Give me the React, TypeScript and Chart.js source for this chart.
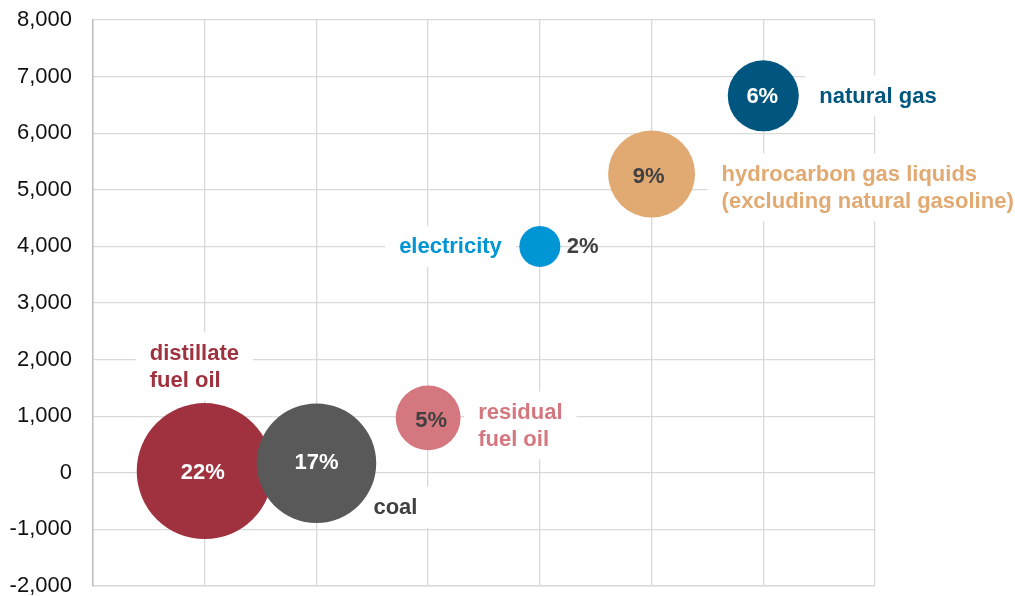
import { useEffect, useRef } from "react";
import { Chart, registerables } from "chart.js";

Chart.register(...registerables);

const categories = [
  "distillate fuel oil",
  "coal",
  "residual fuel oil",
  "electricity",
  "hydrocarbon gas liquids (excluding natural gasoline)",
  "natural gas",
];
const xPositions = [1, 2, 3, 4, 5, 6];
const yValues = [30, 170, 970, 4000, 5280, 6660];
const shares = [22, 17, 5, 2, 9, 6];
const labelLines = [
  ["distillate", "fuel oil"],
  ["coal"],
  ["residual", "fuel oil"],
  ["electricity"],
  ["hydrocarbon gas liquids", "(excluding natural gasoline)"],
  ["natural gas"],
];
const yMin = -2000;
const yMax = 8000;
const yStep = 1000;

const bubbleColors = ["#a0323f", "#595959", "#d5777f", "#0096d6", "#e2aa73", "#00567e"];
const shareTextColors = ["#ffffff", "#ffffff", "#404040", "#404040", "#404040", "#ffffff"];
const labelColors = ["#a0323f", "#404040", "#d5777f", "#0096d6", "#e2aa73", "#00567e"];
// label placement relative to bubble centre: [dx, dy of first line, align]
const labelPlacement: [number, number, CanvasTextAlign][] = [
  [-55, -117, "left"],
  [57, 45, "left"],
  [50, -5, "left"],
  [-38, 1, "right"],
  [70, 1, "left"],
  [56, 1, "left"],
];
// share label placement relative to bubble centre: [dx, dy, align]
const sharePlacement: [number, number, CanvasTextAlign][] = [
  [-2, 2, "center"],
  [0, 0, "center"],
  [3, 3, "center"],
  [27, 1, "left"],
  [-3, 3, "center"],
  [-1, 1, "center"],
];

const FONT = '"Liberation Sans", Arial, sans-serif';
const LINE_H = 27;

const labelPlugin = {
  id: "bubbleLabels",
  beforeDatasetsDraw(chart: any) {
    const ctx = chart.ctx;
    const meta = chart.getDatasetMeta(0);
    ctx.save();
    ctx.font = `bold 22px ${FONT}`;
    ctx.textBaseline = "middle";
    meta.data.forEach((el: any, i: number) => {
      const [dx, dy, align] = labelPlacement[i];
      const lines = labelLines[i];
      const x = el.x + dx;
      const y0 = el.y + dy;
      const w = Math.max(...lines.map((l) => ctx.measureText(l).width));
      const left = align === "right" ? x - w : x;
      const top = y0 - LINE_H / 2;
      const h = LINE_H * lines.length;
      ctx.fillStyle = "#ffffff";
      ctx.fillRect(left - 14, top - 8, w + 28, h + 14);
      ctx.fillStyle = labelColors[i];
      ctx.textAlign = align;
      lines.forEach((l, k) => ctx.fillText(l, x, y0 + k * LINE_H));
    });
    ctx.restore();
  },
  afterDatasetsDraw(chart: any) {
    const ctx = chart.ctx;
    const meta = chart.getDatasetMeta(0);
    ctx.save();
    ctx.font = `bold 22px ${FONT}`;
    ctx.textBaseline = "middle";
    meta.data.forEach((el: any, i: number) => {
      const [dx, dy, align] = sharePlacement[i];
      ctx.fillStyle = shareTextColors[i];
      ctx.textAlign = align;
      ctx.fillText(`${shares[i]}%`, el.x + dx, el.y + dy);
    });
    ctx.restore();
  },
};

export default function App() {
  const ref = useRef<HTMLCanvasElement | null>(null);
  useEffect(() => {
    if (!ref.current) return;
    const chart = new Chart(ref.current, {
      type: "bubble",
      data: {
        labels: categories,
        datasets: [
          {
            label: "energy",
            data: xPositions.map((x, i) => ({
              x,
              y: yValues[i],
              r: 14.5 * Math.sqrt(shares[i]),
            })),
            backgroundColor: bubbleColors,
            borderWidth: 0,
            hoverBorderWidth: 0,
            hoverRadius: 0,
          },
        ],
      },
      options: {
        animation: false,
        responsive: false,
        events: [],
        clip: false,
        layout: { autoPadding: false, padding: { left: 0, right: 140, top: 20, bottom: 10 } },
        plugins: { legend: { display: false }, tooltip: { enabled: false } },
        scales: {
          x: {
            type: "linear",
            min: 0,
            max: 7,
            ticks: { display: false, stepSize: 1 },
            grid: { color: "#d9d9d9", lineWidth: 1.3, drawTicks: false },
            border: { color: "#d9d9d9", width: 1.5 },
            afterFit: (s: any) => {
              s.height = 0;
              s.paddingLeft = 0;
              s.paddingRight = 0;
            },
          },
          y: {
            min: yMin,
            max: yMax,
            ticks: {
              stepSize: yStep,
              padding: 21,
              color: "#111111",
              font: { family: FONT, size: 22 },
            },
            grid: { color: "#d9d9d9", lineWidth: 1.3, drawTicks: false },
            border: { color: "#bfbfbf", width: 1.5 },
            afterFit: (s: any) => {
              s.width = 93;
              s.paddingTop = 0;
              s.paddingBottom = 0;
            },
          },
        },
      },
      plugins: [labelPlugin],
    });
    return () => chart.destroy();
  }, []);
  return (
    <div style={{ position: "fixed", left: 0, top: 0, width: 1015, height: 596, background: "#fff" }}>
      <canvas ref={ref} width={1015} height={596} style={{ display: "block" }} />
    </div>
  );
}
